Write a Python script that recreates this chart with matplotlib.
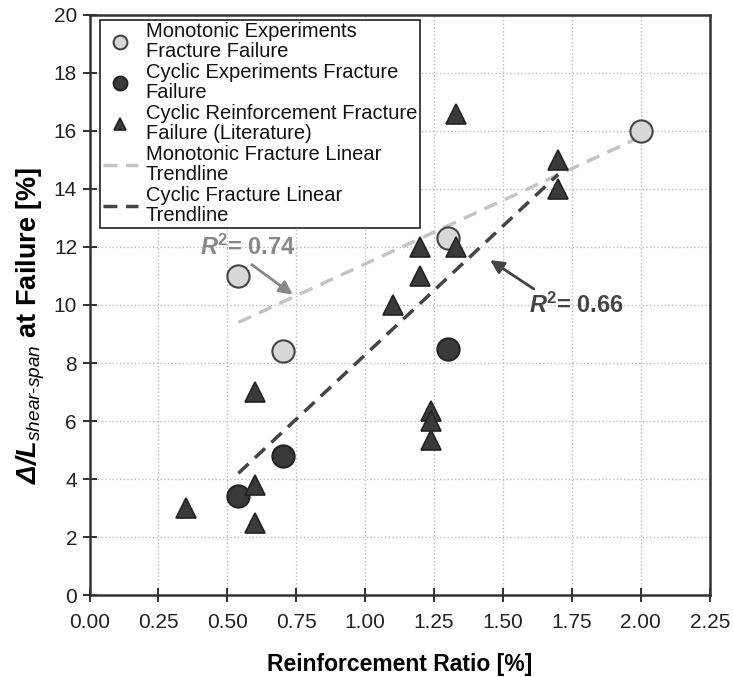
import matplotlib
matplotlib.use('Agg')
import matplotlib.pyplot as plt

plt.rcParams['font.family'] = ['Liberation Sans', 'DejaVu Sans']
plt.rcParams['mathtext.fontset'] = 'custom'
plt.rcParams['mathtext.rm'] = 'Liberation Sans'
plt.rcParams['mathtext.it'] = 'Liberation Sans:italic'
plt.rcParams['mathtext.bf'] = 'Liberation Sans:bold'
plt.rcParams['mathtext.bfit'] = 'Liberation Sans:bold:italic'

# monotonic experiments, fracture failure
mono_x = [0.54, 0.70, 1.30, 2.00]
mono_y = [11.0, 8.4, 12.3, 16.0]

# cyclic experiments, fracture failure
cyc_x = [0.54, 0.70, 1.30]
cyc_y = [3.4, 4.8, 8.5]

# cyclic reinforcement fracture failure (literature)
lit_x = [0.35, 0.60, 0.60, 0.60, 1.10, 1.20, 1.20, 1.33, 1.33, 1.24, 1.24, 1.24, 1.70, 1.70]
lit_y = [3.0, 7.0, 3.8, 2.5, 10.0, 12.0, 11.0, 12.0, 16.6, 6.35, 6.0, 5.35, 15.0, 14.0]

# trendlines (end points)
mono_trend_x = [0.54, 2.00]
mono_trend_y = [9.4, 15.8]
cyc_trend_x = [0.54, 1.70]
cyc_trend_y = [4.2, 14.5]

fig = plt.figure(figsize=(7.34, 6.77), dpi=100)
ax = fig.add_axes([0.122, 0.121, 0.845, 0.857])

ax.plot(mono_trend_x, mono_trend_y, '--', color='#c4c4c4', lw=2.5, dashes=(4, 2.5),
        label='Monotonic Fracture Linear\nTrendline', zorder=2)
ax.plot(cyc_trend_x, cyc_trend_y, '--', color='#444444', lw=2.5, dashes=(4, 2.5),
        label='Cyclic Fracture Linear\nTrendline', zorder=2)

ax.plot(mono_x, mono_y, 'o', ms=16, mfc='#d8d8d8', mec='#444444', mew=1.5,
        label='Monotonic Experiments\nFracture Failure', zorder=3)
ax.plot(cyc_x, cyc_y, 'o', ms=16, mfc='#3a3a3a', mec='#222222', mew=1.5,
        label='Cyclic Experiments Fracture\nFailure', zorder=3)
ax.plot(lit_x, lit_y, '^', ms=15, mfc='#3a3a3a', mec='#222222', mew=1.2,
        label='Cyclic Reinforcement Fracture\nFailure (Literature)', zorder=3)

handles, labels = ax.get_legend_handles_labels()
order = [2, 3, 4, 0, 1]
leg = ax.legend([handles[i] for i in order], [labels[i] for i in order],
                loc='upper left', bbox_to_anchor=(0.017, 0.992), fontsize=14.5,
                frameon=True, fancybox=False, edgecolor='#222222', framealpha=1,
                handlelength=1.75, handletextpad=0.4, labelspacing=0.07,
                borderpad=0.12, markerscale=0.62, borderaxespad=0)
leg.get_frame().set_linewidth(1.2)
for t in leg.get_texts():
    t.set_linespacing(1.1)
    t.set_color('#111111')

ax.annotate('', xy=(0.745, 10.3), xytext=(0.58, 11.45),
            arrowprops=dict(arrowstyle='-|>', color='#888888', lw=2, mutation_scale=20))
ax.text(0.575, 12.0, r'$\mathbfit{R}^{\mathbf{2}}$' + '= 0.74', color='#888888', fontsize=17,
        fontweight='bold', ha='center', va='center')
ax.annotate('', xy=(1.445, 11.6), xytext=(1.62, 10.5),
            arrowprops=dict(arrowstyle='-|>', color='#444444', lw=2, mutation_scale=20))
ax.text(1.765, 10.0, r'$\mathbfit{R}^{\mathbf{2}}$' + '= 0.66', color='#444444', fontsize=17,
        fontweight='bold', ha='center', va='center')

ax.set_xlim(0, 2.25)
ax.set_ylim(0, 20)
ax.set_xticks([0.25 * i for i in range(10)])
ax.set_xticklabels(['%.2f' % (0.25 * i) for i in range(10)])
ax.set_yticks(range(0, 21, 2))
ax.tick_params(direction='inout', length=10, width=1.3, labelsize=15, colors='#222222', pad=4)
ax.tick_params(axis='x', pad=8)
ax.grid(True, linestyle=':', color='#bbbbbb', lw=1)
ax.set_axisbelow(True)
for s in ax.spines.values():
    s.set_linewidth(1.8)
    s.set_color('#333333')

ax.set_xlabel('Reinforcement Ratio [%]', fontsize=16.5, fontweight='bold', labelpad=15)
ax.set_ylabel(r'$\mathbfit{\Delta/L}_{\mathit{shear\text{-}span}}$' + ' at Failure [%]',
              fontsize=19.5, fontweight='bold')
ax.yaxis.set_label_coords(-0.068, 0.465)

plt.savefig('out.png', dpi=100)
